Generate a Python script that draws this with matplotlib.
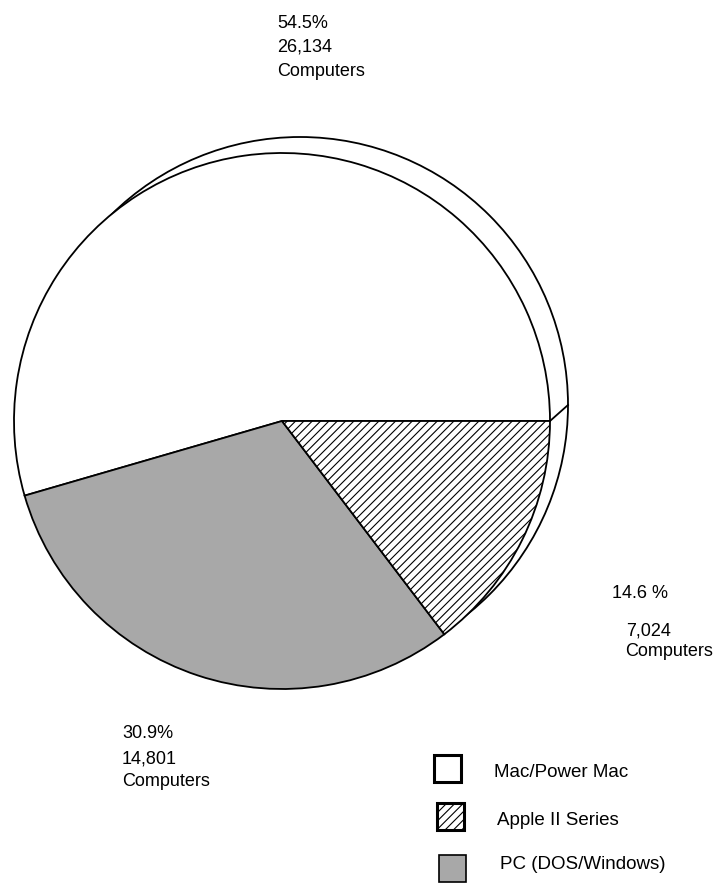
import numpy as np
import matplotlib.pyplot as plt
from matplotlib.patches import Circle, Rectangle

plt.rcParams['font.family'] = ['Liberation Sans', 'DejaVu Sans']
plt.rcParams['hatch.color'] = '#444444'
plt.rcParams['hatch.linewidth'] = 0.8

categories = ["Mac/Power Mac", "PC (DOS/Windows)", "Apple II Series"]
computers = [26134, 14801, 7024]
percents = ["54.5%", "30.9%", "14.6 %"]
counts = ["26,134", "14,801", "7,024"]
legend_order = ["Mac/Power Mac", "Apple II Series", "PC (DOS/Windows)"]

W, H = 722, 883
fig = plt.figure(figsize=(W / 100, H / 100), dpi=100)
ax = fig.add_axes([0, 0, 1, 1])

cx, cy, r = 282, 421, 268
dx, dy = 18, -16

fills = {"Mac/Power Mac": ("white", None),
         "PC (DOS/Windows)": ("#a8a8a8", None),
         "Apple II Series": ("white", "////")}

# shifted copy of the pie behind the real one
ax.add_patch(Circle((cx + dx, cy + dy), r, facecolor="white",
                    edgecolor="black", lw=1.3, zorder=1))

# y axis is inverted (pixel coords), so counterclock=False draws counterclockwise on screen
wedges, _ = ax.pie(computers, startangle=0, counterclock=False,
                   center=(cx, cy), radius=r,
                   colors=[fills[c][0] for c in categories],
                   hatch=[fills[c][1] for c in categories],
                   wedgeprops=dict(edgecolor="black", lw=1.3, zorder=2))
ax.plot([cx + r, cx + r + dx], [cy, cy + dy], color="black", lw=1.3, zorder=3)

# slice labels
fs = 13
ax.text(277, 28, percents[0], fontsize=fs, va="baseline")
ax.text(277, 52, counts[0], fontsize=fs, va="baseline")
ax.text(277, 76, "Computers", fontsize=fs, va="baseline")

ax.text(122, 738, percents[1], fontsize=fs, va="baseline")
ax.text(122, 763, counts[1], fontsize=fs, va="baseline")
ax.text(122, 786, "Computers", fontsize=fs, va="baseline")

ax.text(612, 598, percents[2], fontsize=fs, va="baseline")
ax.text(626, 636, counts[2], fontsize=fs, va="baseline")
ax.text(625, 656, "Computers", fontsize=fs, va="baseline")

# legend
box_y = [755, 803, 855]
txt_y = [777, 825, 869]
for i, name in enumerate(legend_order):
    fc, hatch = fills[name]
    bx = 434 + 2.5 * i
    ax.add_patch(Rectangle((bx, box_y[i]), 27, 27, facecolor=fc, hatch=hatch,
                           edgecolor="black", lw=2.2 if i < 2 else 1.2))
    ax.text(494 + 3 * i, txt_y[i], name, fontsize=13.5, va="baseline")

ax.set_xlim(0, W)
ax.set_ylim(H, 0)
ax.set_aspect("equal")
ax.axis("off")

plt.savefig("out.png", dpi=100)
